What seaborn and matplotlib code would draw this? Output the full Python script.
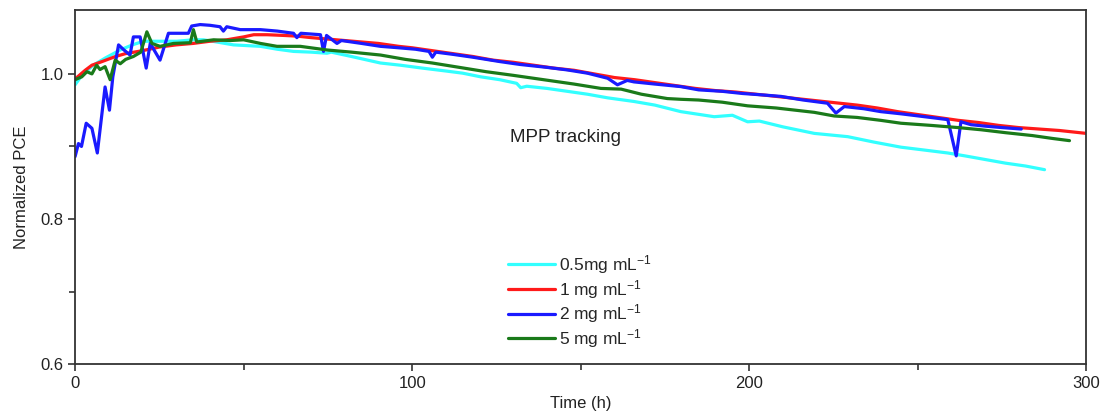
import numpy as np
import pandas as pd
import matplotlib
matplotlib.use("Agg")
import matplotlib.pyplot as plt
import seaborn as sns
from matplotlib.ticker import MultipleLocator, FormatStrFormatter

# ---- data ----
t_red = [0, 3, 5, 8, 12, 15, 20, 25, 30, 35, 40, 45, 50, 53, 57, 62, 66, 70, 75, 80, 85, 90, 96,
         100, 106, 112, 118, 124, 130, 136, 142, 148, 154, 160, 166, 172, 178, 184, 190, 196, 202,
         208, 214, 220, 226, 232, 238, 244, 250, 256, 262, 268, 274, 280, 286, 292, 296, 300]
v_red = [0.993, 1.005, 1.012, 1.017, 1.024, 1.028, 1.032, 1.037, 1.040, 1.042, 1.045, 1.047, 1.051,
         1.054, 1.054, 1.053, 1.052, 1.050, 1.048, 1.046, 1.044, 1.042, 1.038, 1.036, 1.032, 1.028,
         1.024, 1.019, 1.016, 1.012, 1.008, 1.005, 1.000, 0.995, 0.992, 0.988, 0.984, 0.980, 0.977,
         0.975, 0.972, 0.969, 0.966, 0.963, 0.960, 0.957, 0.953, 0.948, 0.944, 0.940, 0.936, 0.933,
         0.929, 0.926, 0.924, 0.922, 0.920, 0.918]

t_blue = [0, 1, 1.9, 3.3, 5, 6.6, 8.9, 10.2, 11.2, 12.9, 14.5, 16.3, 17.3, 19.3, 21.1, 22.3, 25.2,
          27.7, 30, 33.6, 34.6, 37.1, 40, 43, 44, 45, 49, 55, 60, 64.8, 65.8, 67, 72.8, 73.7, 74.6,
          77.7, 79, 85, 90.6, 96, 101, 105, 106, 107, 112, 118, 126, 132, 140, 146, 152, 158, 160.9,
          163.8, 165.8, 172, 179.7, 185, 192, 198, 204, 209.4, 216, 223.2, 225.7, 228.2, 234, 239,
          245, 252, 258.9, 261.4, 262.8, 265.8, 270, 275, 280.7]
v_blue = [0.886, 0.904, 0.900, 0.932, 0.925, 0.891, 0.982, 0.950, 0.996, 1.040, 1.033, 1.026, 1.051,
          1.051, 1.008, 1.042, 1.019, 1.056, 1.056, 1.056, 1.066, 1.068, 1.067, 1.065, 1.059, 1.065,
          1.061, 1.061, 1.059, 1.056, 1.050, 1.056, 1.054, 1.031, 1.053, 1.042, 1.046, 1.042, 1.038,
          1.036, 1.034, 1.031, 1.023, 1.030, 1.027, 1.023, 1.017, 1.013, 1.009, 1.0055, 1.001, 0.994,
          0.985, 0.991, 0.989, 0.986, 0.9825, 0.978, 0.976, 0.973, 0.971, 0.969, 0.964, 0.9596, 0.946,
          0.955, 0.952, 0.948, 0.945, 0.941, 0.937, 0.887, 0.934, 0.930, 0.928, 0.926, 0.924]

t_green = [0, 2, 3.5, 5, 6.4, 7.4, 8.9, 10.4, 11.9, 13.4, 15, 17.3, 19.5, 21.3, 22.8, 25.2, 29.2,
           34.2, 35.1, 36.1, 41.1, 46, 50, 52, 55, 59.9, 66.8, 74.7, 82, 90.6, 98, 106, 114, 122, 130,
           136, 142, 148, 156, 162, 168, 175.7, 179.7, 185, 192, 199.5, 208, 219.3, 225.2, 232, 239,
           245, 254, 262, 268.8, 276, 284, 290, 295]
v_green = [0.992, 0.996, 1.003, 1.000, 1.012, 1.006, 1.010, 0.992, 1.019, 1.014, 1.020, 1.024, 1.030,
           1.058, 1.042, 1.038, 1.042, 1.043, 1.061, 1.044, 1.047, 1.046, 1.047, 1.045, 1.042, 1.038,
           1.038, 1.033, 1.030, 1.026, 1.020, 1.015, 1.009, 1.003, 0.998, 0.994, 0.990, 0.986, 0.980,
           0.979, 0.972, 0.966, 0.965, 0.964, 0.961, 0.956, 0.953, 0.947, 0.942, 0.940, 0.936, 0.932,
           0.929, 0.926, 0.923, 0.919, 0.915, 0.911, 0.908]

t_cyan = [0, 2, 5.4, 9, 13.4, 17, 20.3, 25, 30.2, 35, 38.1, 42, 47, 51, 55, 60, 64.8, 70, 74.7, 76,
          82, 90.6, 96.5, 103, 110, 115, 120.3, 126, 131, 132.2, 134, 140, 146, 152, 158, 165.8, 172,
          179.7, 189.6, 195, 199.5, 203, 210, 219.3, 229.2, 237, 245, 252, 258.9, 264, 270, 276, 282,
          287.6]
v_cyan = [0.985, 0.998, 1.012, 1.022, 1.033, 1.040, 1.045, 1.045, 1.045, 1.047, 1.047, 1.044, 1.040,
          1.039, 1.038, 1.034, 1.031, 1.030, 1.0285, 1.030, 1.024, 1.015, 1.012, 1.008, 1.004, 1.001,
          0.996, 0.992, 0.987, 0.981, 0.983, 0.980, 0.976, 0.972, 0.967, 0.962, 0.957, 0.948, 0.941,
          0.943, 0.934, 0.935, 0.927, 0.918, 0.9135, 0.906, 0.899, 0.895, 0.891, 0.887, 0.882, 0.877,
          0.873, 0.868]

labels = ["0.5mg mL$^{-1}$", "1 mg mL$^{-1}$", "2 mg mL$^{-1}$", "5 mg mL$^{-1}$"]
colors = ["#33ffff", "#ff1a1a", "#1a1aff", "#1a7a1a"]

# ---- plotting ----
sns.set_theme(style="ticks")
plt.rcParams["font.family"] = ["Liberation Sans", "DejaVu Sans"]
plt.rcParams["mathtext.fontset"] = "custom"
plt.rcParams["mathtext.rm"] = "Liberation Sans"
plt.rcParams["mathtext.it"] = "Liberation Sans:italic"

fig = plt.figure(figsize=(11.04, 4.19), dpi=100)
ax = fig.add_axes([0.068, 0.131, 0.916, 0.845])

series = [(t_cyan, v_cyan), (t_red, v_red), (t_blue, v_blue), (t_green, v_green)]
for (tt, vv), lab, col in zip(series, labels, colors):
    sns.lineplot(x=tt, y=vv, color=col, label=lab, ax=ax, sort=False, linewidth=2.3)

ax.set_xlim(0, 300)
ax.set_ylim(0.6, 1.088)
ax.xaxis.set_major_locator(MultipleLocator(100))
ax.xaxis.set_minor_locator(MultipleLocator(50))
ax.yaxis.set_major_locator(MultipleLocator(0.2))
ax.yaxis.set_minor_locator(MultipleLocator(0.1))
ax.yaxis.set_major_formatter(FormatStrFormatter("%.1f"))
ax.tick_params(which="both", direction="out", color="#333333", labelsize=12, labelcolor="#222222")
ax.tick_params(which="major", length=5, width=1.2)
ax.tick_params(which="minor", length=4, width=1.2)
for sp in ax.spines.values():
    sp.set_visible(True)
    sp.set_color("#333333")
    sp.set_linewidth(1.3)

ax.set_xlabel("Time (h)", fontsize=12, color="#222222", labelpad=4)
ax.set_ylabel("Normalized PCE", fontsize=12, color="#222222", labelpad=8)

ax.text(129, 0.912, "MPP tracking", fontsize=13.5, color="#222222", ha="left", va="center")

leg = ax.legend(loc="upper left", bbox_to_anchor=(0.421, 0.333), frameon=False, fontsize=12.5,
                handlelength=2.7, handletextpad=0.25, labelspacing=0.1, borderaxespad=0)
for line in leg.get_lines():
    line.set_linewidth(2.3)

fig.savefig("out.png", dpi=100)
